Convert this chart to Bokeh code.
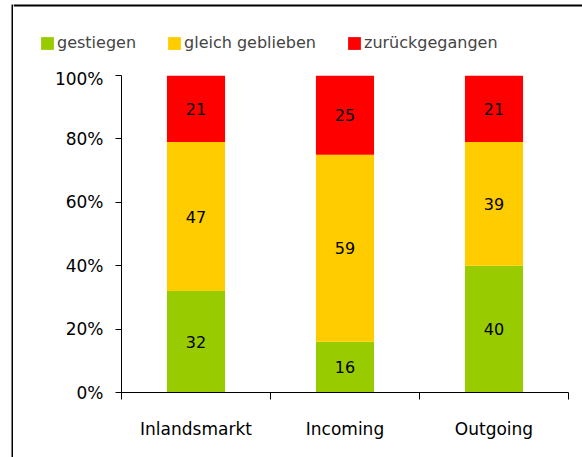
from bokeh.plotting import figure
from bokeh.layouts import row, column
from bokeh.models import Range1d, FixedTicker, Legend, LegendItem, ColumnDataSource, BoxAnnotation
from bokeh.embed import file_html
from bokeh.resources import INLINE
from bokeh.core.properties import value

categories = ["Inlandsmarkt", "Incoming", "Outgoing"]
gestiegen = [32, 16, 40]
gleich = [47, 59, 39]
zurueck = [21, 25, 21]
series_names = ["gestiegen", "gleich geblieben", "zurückgegangen"]
colors = ["#99CC00", "#FFCC00", "#FF0000"]
y_ticks = [0, 20, 40, 60, 80, 100]

FONT = "DejaVu Sans"


def bare_fig(w, h, xr, yr):
    f = figure(width=w, height=h, output_backend="svg", toolbar_location=None,
               x_range=Range1d(*xr), y_range=Range1d(*yr),
               x_axis_location=None, y_axis_location=None, frame_align=False,
               min_border_left=0, min_border_right=0, min_border_top=0, min_border_bottom=0)
    f.outline_line_color = None
    f.xgrid.visible = False
    f.ygrid.visible = False
    return f


# ---- main chart ----
main = figure(width=569, height=389, output_backend="svg", toolbar_location=None,
              x_range=Range1d(0, 3), y_range=Range1d(0, 100), frame_align=False,
              min_border_left=108, min_border_right=14, min_border_top=7, min_border_bottom=65)
main.outline_line_color = None
main.xgrid.visible = False
main.ygrid.visible = False

xs = [i + 0.5 for i in range(len(categories))]
series = [gestiegen, gleich, zurueck]
sources = []
bottoms = [0] * len(categories)
for name, vals, col in zip(series_names, series, colors):
    tops = [b + v for b, v in zip(bottoms, vals)]
    mids = [(b + t) / 2 for b, t in zip(bottoms, tops)]
    src = ColumnDataSource(dict(x=xs, bottom=bottoms, top=tops, mid=mids,
                                lab=[str(v) for v in vals]))
    sources.append(src)
    main.vbar(x="x", bottom="bottom", top="top", width=0.39, source=src,
              fill_color=col, line_color=None)
    main.text(x="x", y="mid", text="lab", source=src, text_align="center",
              text_baseline="middle", text_font=value(FONT), text_font_size="16px",
              text_color="black")
    bottoms = tops

main.yaxis.ticker = FixedTicker(ticks=y_ticks, minor_ticks=[])
main.yaxis.major_label_overrides = {t: f"{t}%" for t in y_ticks}
main.yaxis.major_tick_out = 6
main.yaxis.major_tick_in = 0
main.yaxis.minor_tick_out = 0
main.yaxis.minor_tick_in = 0
main.yaxis.axis_line_color = "black"
main.yaxis.major_tick_line_color = "black"
main.yaxis.major_label_text_font = FONT
main.yaxis.major_label_text_font_size = "17px"
main.yaxis.major_label_text_color = "black"
main.yaxis.major_label_standoff = 12

main.xaxis.ticker = FixedTicker(ticks=xs, minor_ticks=[0, 1, 2, 3])
main.xaxis.major_label_overrides = {x: c for x, c in zip(xs, categories)}
main.xaxis.major_tick_out = 0
main.xaxis.major_tick_in = 0
main.xaxis.minor_tick_out = 7
main.xaxis.minor_tick_in = 0
main.xaxis.minor_tick_line_color = "black"
main.xaxis.axis_line_color = "black"
main.xaxis.major_label_text_font = FONT
main.xaxis.major_label_text_font_size = "17px"
main.xaxis.major_label_text_color = "black"
main.xaxis.major_label_standoff = 19

# ---- legend strip (with top border line) ----
leg = bare_fig(569, 68, (0, 569), (0, 68))
leg_renderers = []
for src, col in zip(sources, colors):
    r = leg.vbar(x="x", bottom="bottom", top="top", width=0.39, source=src,
                 fill_color=col, line_color=None, visible=False)
    leg_renderers.append(r)
legend = Legend(items=[LegendItem(label=n, renderers=[r]) for n, r in zip(series_names, leg_renderers)],
                orientation="horizontal", location=(26, 16),
                glyph_width=16, glyph_height=16, label_standoff=2, spacing=30,
                label_text_font=FONT, label_text_font_size="16px",
                padding=0, margin=0, border_line_color=None, background_fill_alpha=0)
leg.add_layout(legend, "center")
leg.add_layout(BoxAnnotation(left=0, right=569, bottom=62, top=64,
                             fill_color="black", fill_alpha=1, line_color=None))

# ---- left border strip ----
brd = bare_fig(13, 457, (0, 13), (0, 457))
brd.add_layout(BoxAnnotation(left=11, right=13, bottom=0, top=453,
                             fill_color="black", fill_alpha=1, line_color=None))

p = row(brd, column(leg, main, spacing=0), spacing=0)

open("out.html", "w").write(file_html(p, INLINE))
